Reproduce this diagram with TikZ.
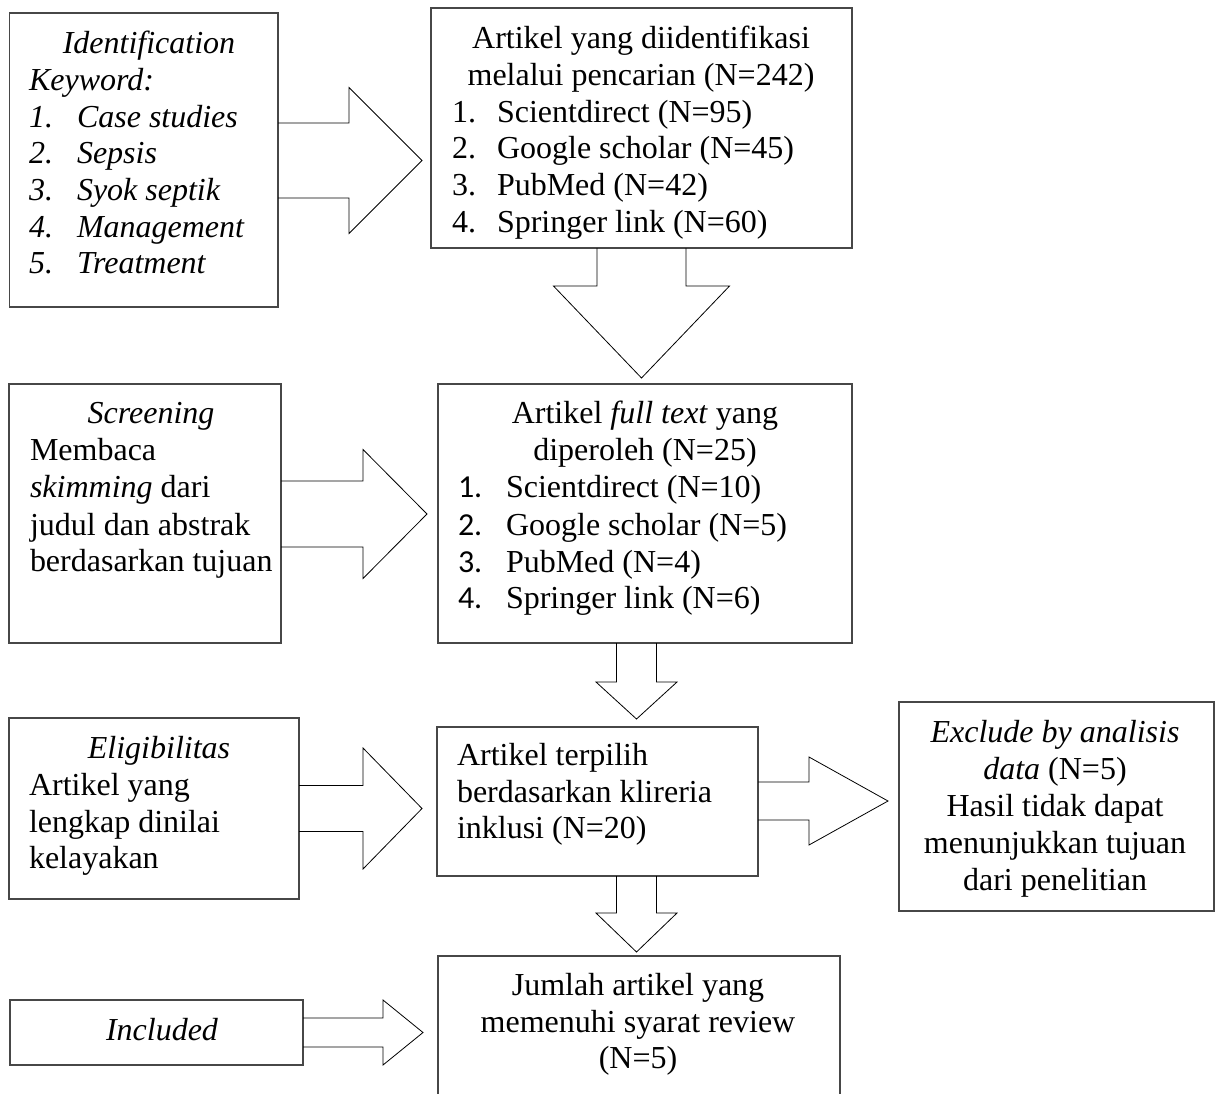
\documentclass[tikz,border=0pt]{standalone}
\usepackage{fontspec}
\setmainfont{Liberation Serif}
\newfontfamily\numfont{Carlito}
\newcommand\arrR[6]{% source node, head x, tip x, centre y, shaft half, head half
  \draw[blk] (#1.east |- 0,#4-#5) -- (#2,#4-#5) -- (#2,#4-#6) -- (#3,#4)
    -- (#2,#4+#6) -- (#2,#4+#5) -- (#1.east |- 0,#4+#5);}
\newcommand\arrD[6]{% source node, head y, tip y, centre x, shaft half, head half
  \draw[blk] (#1.south -| #4-#5,0) -- (#4-#5,#2) -- (#4-#6,#2) -- (#4,#3)
    -- (#4+#6,#2) -- (#4+#5,#2) -- (#1.south -| #4+#5,0);}
\newcommand\mkbox[5]{%
  \node[boxst, minimum width={(#4-#2)*1pt}, minimum height={(#5-#3)*1pt}]
    (#1) at ({(#2+#4)/2},{(#3+#5)/2}) {};}
\tikzset{
  boxst/.style={draw=black!72, line width=1.2pt, inner sep=0pt, outer sep=0pt, fill=white},
  blk/.style={draw=black, line width=0.8pt, line join=miter},
  txt/.style={inner sep=0pt, outer sep=0pt, font=\fontsize{32}{36}\selectfont, text=black},
  lc/.style={txt, anchor=base},
  ll/.style={txt, anchor=base west},
}
\begin{document}
\begin{tikzpicture}[x=1pt,y=-1pt]
\useasboundingbox (0,0) rectangle (1216,1093);
\fill[white] (0,0) rectangle (1216,1093);
\clip (0,0) rectangle (1216,1093);
% boxes
\mkbox{b1}{9.5}{13}{278}{307}
\mkbox{b2}{431}{8}{852}{248}
\mkbox{b3}{9}{384}{281}{643}
\mkbox{b4}{438}{384}{852}{643}
\mkbox{b5}{9}{718}{299}{899}
\mkbox{b6}{437}{727}{758}{876}
\mkbox{b7}{10}{1000}{303}{1065}
\mkbox{b8}{438}{956}{840}{1115}
\mkbox{b9}{899}{702}{1214}{911}
% block arrows
\arrR{b1}{349}{422}{160.5}{37.5}{73}
\arrR{b3}{363}{427}{514}{33}{64.5}
\arrR{b5}{363}{422}{808.5}{23}{60.5}
\arrR{b6}{809}{888}{801}{19}{44}
\arrR{b7}{383}{423}{1032.5}{14.5}{32.5}
\arrD{b2}{286}{378}{641.5}{44.5}{88}
\arrD{b4}{682}{719}{636.5}{20}{40.5}
\arrD{b6}{913}{952}{636.5}{20}{40.5}
% box 1
\node[lc] (t1a) at (149,53) {\itshape Identification};
\node[ll] (t1b) at (29,90) {\itshape Keyword:};
\node[ll] (t1n1) at (29,127) {\itshape 1.};
\node[ll] (t1i1) at (77,127) {\itshape Case studies};
\node[ll] (t1n2) at (29,163) {\itshape 2.};
\node[ll] (t1i2) at (77,163) {\itshape Sepsis};
\node[ll] (t1n3) at (29,200) {\itshape 3.};
\node[ll] (t1i3) at (77,200) {\itshape Syok septik};
\node[ll] (t1n4) at (29,237) {\itshape 4.};
\node[ll] (t1i4) at (77,237) {\itshape Management};
\node[ll] (t1n5) at (29,273) {\itshape 5.};
\node[ll] (t1i5) at (77,273) {\itshape Treatment};
% box 2
\node[lc] (t2a) at (641,48) {Artikel yang diidentifikasi};
\node[lc] (t2b) at (641,85) {melalui pencarian (N=242)};
\node[ll] (t2n1) at (452,122) {1.};
\node[ll] (t2i1) at (497,122) {Scientdirect (N=95)};
\node[ll] (t2n2) at (452,158) {2.};
\node[ll] (t2i2) at (497,158) {Google scholar (N=45)};
\node[ll] (t2n3) at (452,195) {3.};
\node[ll] (t2i3) at (497,195) {PubMed (N=42)};
\node[ll] (t2n4) at (452,232) {4.};
\node[ll] (t2i4) at (497,232) {Springer link (N=60)};
% box 3
\node[lc] (t3a) at (151,423) {\itshape Screening};
\node[ll] (t3b) at (30,460) {Membaca};
\node[ll] (t3c) at (30,497) {\textit{skimming} dari};
\node[ll] (t3d) at (30,535) {judul dan abstrak};
\node[ll] (t3e) at (30,571) {berdasarkan tujuan};
% box 4
\node[lc] (t4a) at (645,423) {Artikel \textit{full text} yang};
\node[lc] (t4b) at (645,460) {diperoleh (N=25)};
\node[ll] (t4n1) at (458,497) {\numfont 1.};
\node[ll] (t4i1) at (506,497) {Scientdirect (N=10)};
\node[ll] (t4n2) at (458,535) {\numfont 2.};
\node[ll] (t4i2) at (506,535) {Google scholar (N=5)};
\node[ll] (t4n3) at (458,572) {\numfont 3.};
\node[ll] (t4i3) at (506,572) {PubMed (N=4)};
\node[ll] (t4n4) at (458,608) {\numfont 4.};
\node[ll] (t4i4) at (506,608) {Springer link (N=6)};
% box 5
\node[lc] (t5a) at (159,758) {\itshape Eligibilitas};
\node[ll] (t5b) at (29,795) {Artikel yang};
\node[ll] (t5c) at (29,832) {lengkap dinilai};
\node[ll] (t5d) at (29,868) {kelayakan};
% box 6
\node[ll] (t6a) at (457,765) {Artikel terpilih};
\node[ll] (t6b) at (457,802) {berdasarkan klireria};
\node[ll] (t6c) at (457,838) {inklusi (N=20)};
% box 7
\node[lc] (t7a) at (162,1040) {\itshape Included};
% box 8
\node[lc] (t8a) at (638,995) {Jumlah artikel yang};
\node[lc] (t8b) at (638,1032) {memenuhi syarat review};
\node[lc] (t8c) at (638,1068) {(N=5)};
% box 9
\node[lc] (t9a) at (1055,742) {\itshape Exclude by analisis};
\node[lc] (t9b) at (1055,779) {\textit{data} (N=5)};
\node[lc] (t9c) at (1055,816) {Hasil tidak dapat};
\node[lc] (t9d) at (1055,853) {menunjukkan tujuan};
\node[lc] (t9e) at (1055,890) {dari penelitian};
\end{tikzpicture}
\end{document}
